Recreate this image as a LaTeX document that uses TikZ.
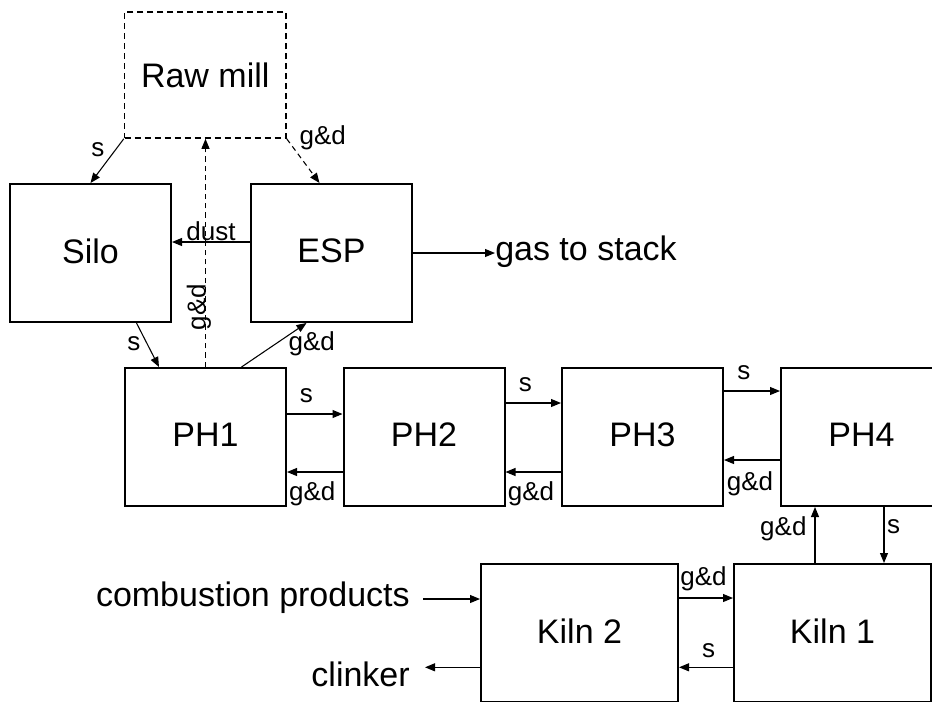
\documentclass[tikz,border=0pt]{standalone}
\usepackage{fontspec}
\setmainfont{Liberation Sans}
\usetikzlibrary{arrows.meta,calc}

\tikzset{
  box/.style={draw, line width=1.5pt, minimum width=120.75pt, minimum height=103.5pt, inner sep=0pt, text depth=0.3em, font=\fontsize{25.5}{30}\selectfont},
  kiln/.style={box, minimum width=147.75pt},
  flow/.style={line width=0.8pt, -{Triangle[length=7.5pt,width=6pt]}},
  dflow/.style={flow, dash pattern=on 4pt off 3pt},
  gd/.style={font=\fontsize{19.5}{22}\selectfont, inner sep=2pt, text height=0.72em, text depth=0.21em},
  side/.style={font=\fontsize{25.5}{30}\selectfont, inner sep=0pt}
}

\begin{document}
\begin{tikzpicture}[x=0.75pt, y=-0.75pt]
  \useasboundingbox (0,0) rectangle (932,701);
  \clip (0,0) rectangle (932,701);

  \coordinate (M) at (205.25,75);
  \coordinate (S) at (90.5,253);
  \coordinate (E) at (331.5,253);
  \coordinate (P1) at (205.5,437);
  \coordinate (P2) at (424,437);
  \coordinate (P3) at (642.5,437);
  \coordinate (P4) at (861.5,437);
  \coordinate (K2) at (579.5,633);
  \coordinate (K1) at (832.5,633);

  % 方框
  \node[box, line width=1.2pt, dash pattern=on 4.5pt off 3pt, text depth=0pt, minimum width=121pt, minimum height=94.5pt] (mill) at (M) {Raw mill};
  \node[box] (silo) at (S) {Silo};
  \node[box] (esp) at (E) {ESP};
  \node[box] (ph1) at (P1) {PH1};
  \node[box] (ph2) at (P2) {PH2};
  \node[box] (ph3) at (P3) {PH3};
  \node[box] (ph4) at (P4) {PH4};
  \node[kiln] (kiln2) at (K2) {Kiln 2};
  \node[kiln] (kiln1) at (K1) {Kiln 1};

  \node[side, anchor=base west] (gas) at (495,260) {gas to stack};
  \node[side, anchor=base east] (comb) at (410,606.5) {combustion products};
  \node[side, anchor=base east] (clinker) at (410,686.5) {clinker};
  \coordinate (combin) at (423,599);
  \coordinate (clinkerout) at (425,667.3);

  % 原料磨、筒仓、电除尘
  \draw[flow] (mill.south west) -- (silo.north) node[gd, pos=0.33, left=4pt] {s};
  \draw[dflow] (mill.south east) -- ($(esp.north)+(-12,0)$) node[gd, pos=0.05, right=6pt] {g\&d};
  \draw[dflow, line width=0.7pt] (ph1.north) -- (ph1.north |- mill.south) node[gd, pos=0.263, sloped, anchor=base] {g\&d};
  \draw[flow] ($(esp.west)+(0,-11)$) -- ($(silo.east)+(0,-11)$) node[gd, pos=0.5, above, inner sep=0.5pt, text height=, text depth=] {dust};
  \draw[flow] (esp.east) -- (esp.east -| gas.west);
  \draw[flow] ($(silo.south)+(46,0)$) -- ($(ph1.north)+(-46.5,0)$) node[gd, pos=0.55, left=4pt] {s};
  \draw[flow] ($(ph1.north)+(36,0)$) -- ($(esp.south)+(-25,0)$) node[gd, pos=0.45, right=11pt] {g\&d};

  % 预热器
  \draw[flow] ($(ph1.east)+(0,-23)$) -- ($(ph2.west)+(0,-23)$) node[gd, pos=0.35, above=4pt] {s};
  \draw[flow] ($(ph2.west)+(0,35)$) -- ($(ph1.east)+(0,35)$) node[gd, pos=0.546, below=12pt] {g\&d};
  \draw[flow] ($(ph2.east)+(0,-34)$) -- ($(ph3.west)+(0,-34)$) node[gd, pos=0.36, above=4pt] {s};
  \draw[flow] ($(ph3.west)+(0,35)$) -- ($(ph2.east)+(0,35)$) node[gd, pos=0.54, below=12pt] {g\&d};
  \draw[flow] ($(ph3.east)+(0,-46)$) -- ($(ph4.west)+(0,-46)$) node[gd, pos=0.357, above=4pt] {s};
  \draw[flow] ($(ph4.west)+(0,23)$) -- ($(ph3.east)+(0,23)$) node[gd, pos=0.535, below=13pt] {g\&d};

  % 回转窑
  \draw[flow] ($(kiln1.north)+(-17.5,0)$) -- ($(ph4.south)+(-46.5,0)$) node[gd, pos=0.55, left=4pt] {g\&d};
  \draw[flow] ($(ph4.south)+(22.5,0)$) -- ($(kiln1.north)+(51.5,0)$) node[gd, pos=0.42, right=0pt] {s};
  \draw[flow] ($(kiln2.east)+(0,-35)$) -- ($(kiln1.west)+(0,-35)$) node[gd, pos=0.454, above=5pt] {g\&d};
  \draw[flow] ($(kiln1.west)+(0,34.3)$) -- ($(kiln2.east)+(0,34.3)$) node[gd, pos=0.45, above=3pt] {s};
  \draw[flow] (combin) -- (combin -| kiln2.west);
  \draw[flow] (clinkerout -| kiln2.west) -- (clinkerout);
\end{tikzpicture}
\end{document}
